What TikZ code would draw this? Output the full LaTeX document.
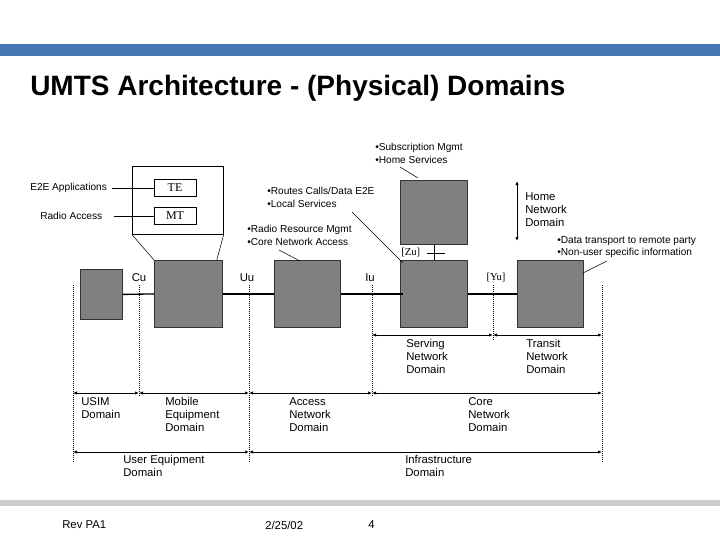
\documentclass[tikz,border=0pt]{standalone}
\usepackage{fontspec}
\setmainfont{Liberation Sans}
\newfontfamily\serifT{Liberation Serif}
\usetikzlibrary{arrows.meta}
\definecolor{barblue}{RGB}{70,120,180}
\definecolor{boxgray}{RGB}{128,128,128}
\tikzset{
  gbox/.style={fill=boxgray,draw=black!80,line width=0.6pt},
  wbox/.style={draw=black,line width=0.5pt,fill=white},
  sm/.style={font=\fontsize{7.6pt}{9pt}\selectfont,anchor=west,inner sep=0pt,align=left},
  lbl/.style={font=\fontsize{8.5pt}{9.9pt}\selectfont,anchor=north west,inner sep=0pt,align=left},
  dots/.style={densely dotted,line width=0.5pt},
  link/.style={line width=1pt},
  lead/.style={line width=0.4pt},
  dim/.style={{Latex[length=3pt,width=2.5pt]}-{Latex[length=3pt,width=2.5pt]},line width=0.6pt}
}
\begin{document}
\begin{tikzpicture}[x=0.75pt,y=-0.75pt]
\useasboundingbox (0,0) rectangle (720,540);
\fill[barblue] (0,44) rectangle (720,56);
\fill[black!20] (0,500) rectangle (720,506);
\node[anchor=west,inner sep=0pt,font=\bfseries\fontsize{21pt}{23pt}\selectfont] (title) at (30,88) {UMTS Architecture - (Physical) Domains};
% boxes
\node[gbox,minimum width=42*0.75pt,minimum height=50*0.75pt,inner sep=0pt,anchor=north west] (usim) at (80,269) {};
\node[gbox,minimum width=68*0.75pt,minimum height=67*0.75pt,inner sep=0pt,anchor=north west] (me) at (154,260) {};
\node[gbox,minimum width=66*0.75pt,minimum height=67*0.75pt,inner sep=0pt,anchor=north west] (an) at (274,260) {};
\node[gbox,minimum width=67*0.75pt,minimum height=67*0.75pt,inner sep=0pt,anchor=north west] (sn) at (400,260) {};
\node[gbox,minimum width=67*0.75pt,minimum height=64*0.75pt,inner sep=0pt,anchor=north west] (hn) at (400,180) {};
\node[gbox,minimum width=66*0.75pt,minimum height=67*0.75pt,inner sep=0pt,anchor=north west] (tn) at (517,260) {};
% outline with TE/MT
\node[draw,line width=0.5pt,minimum width=91*0.75pt,minimum height=68*0.75pt,inner sep=0pt,anchor=north west] (outl) at (132,166) {};
\node[wbox,minimum width=42*0.75pt,minimum height=17*0.75pt,inner sep=0pt,font=\serifT\fontsize{9pt}{9pt}\selectfont] (te) at (175,188) {TE};
\node[wbox,minimum width=42*0.75pt,minimum height=17*0.75pt,inner sep=0pt,font=\serifT\fontsize{9pt}{9pt}\selectfont] (mt) at (175,216) {MT};
\draw[lead] (outl.south west) -- (me.north west);
\draw[lead] (outl.south east) -- ([xshift=-6*0.75pt]me.north east);
\node[sm] (e2e) at (30,188) {E2E Applications};
\node[sm] (ra) at (40,216) {Radio Access};
\draw[lead] ([xshift=5*0.75pt]e2e.east) -- (e2e.east -| te.west);
\draw[lead] ([xshift=12*0.75pt]ra.east) -- (ra.east -| mt.west);
% links
\draw[link] (usim.east) -- (me.west);
\draw[link] (me.east) -- (an.west);
\draw[link] (an.east) -- ([xshift=3*0.75pt]sn.west);
\draw[link] (sn.east) -- (tn.west);
\draw[lead] (hn.south) -- (sn.north);
\coordinate (zt1) at (427,253); \coordinate (zt2) at (445,253);
\draw[lead] (zt1) -- (zt2);
\node[anchor=west,inner sep=0pt,font=\serifT\fontsize{8pt}{8pt}\selectfont] (zu) at (401,253) {[Zu]};
% dotted verticals
\coordinate (d1t) at (73,285); \coordinate (d1b) at (73,462);
\coordinate (d2t) at (139,285); \coordinate (d2b) at (139,396);
\coordinate (d3t) at (249,285); \coordinate (d3b) at (249,462);
\coordinate (d4t) at (372,285); \coordinate (d4b) at (372,396);
\coordinate (d5t) at (493,285); \coordinate (d5b) at (493,340);
\coordinate (d6t) at (602,285); \coordinate (d6b) at (602,462);
\foreach \i in {1,...,6} \draw[dots] (d\i t) -- (d\i b);
\node[font=\fontsize{8.5pt}{9pt}\selectfont,inner sep=0pt] (cu) at (139,278) {Cu};
\node[font=\fontsize{8.5pt}{9pt}\selectfont,inner sep=0pt] (uu) at (247,278) {Uu};
\node[font=\fontsize{8.5pt}{9pt}\selectfont,inner sep=0pt] (iu) at (370,278) {Iu};
\node[font=\serifT\fontsize{8pt}{8pt}\selectfont,inner sep=0pt] (yu) at (496,278) {[Yu]};
% dimension arrows
\coordinate (a1) at (372,335); \coordinate (a2) at (493,335); \coordinate (a3) at (602,335);
\draw[dim] (a1) -- (a2); \draw[dim] (a2) -- (a3);
\coordinate (b1) at (73,393); \coordinate (b2) at (139,393); \coordinate (b3) at (249,393); \coordinate (b4) at (372,393); \coordinate (b5) at (602,393);
\draw[dim] (b1) -- (b2); \draw[dim] (b2) -- (b3); \draw[dim] (b3) -- (b4); \draw[dim] (b4) -- (b5);
\coordinate (c1) at (73,452); \coordinate (c2) at (249,452); \coordinate (c3) at (602,452);
\draw[dim] (c1) -- (c2); \draw[dim] (c2) -- (c3);
\coordinate (h1) at (517,181); \coordinate (h2) at (517,241);
\draw[dim] (h1) -- (h2);
% domain labels
\node[lbl] (hnd) at (525,191) {\strut Home\\Network\\Domain};
\node[lbl] (snd) at (406,338) {\strut Serving\\Network\\Domain};
\node[lbl] (tnd) at (526,338) {\strut Transit\\Network\\Domain};
\node[lbl] (usd) at (81,396) {\strut USIM\\Domain};
\node[lbl] (med) at (165,396) {\strut Mobile\\Equipment\\Domain};
\node[lbl] (and) at (289,396) {\strut Access\\Network\\Domain};
\node[lbl] (cnd) at (468,396) {\strut Core\\Network\\Domain};
\node[lbl] (ued) at (123,454) {\strut User Equipment\\Domain};
\node[lbl] (ifd) at (405,454) {\strut Infrastructure\\Domain};
% annotations
\node[sm] (sub) at (375,148) {\textbullet Subscription Mgmt};
\node[sm] (hs) at (375,160) {\textbullet Home Services};
\draw[lead] (400,167) -- (418,178);
\node[sm] (rc) at (267,191) {\textbullet Routes Calls/Data E2E};
\node[sm] (ls) at (267,204) {\textbullet Local Services};
\draw[lead] (352,212) -- (403,263);
\node[sm] (rr) at (247,230) {\textbullet Radio Resource Mgmt};
\node[sm] (cn) at (247,242) {\textbullet Core Network Access};
\draw[lead] (279,250) -- (300,261);
\node[sm] (dt) at (557,241) {\textbullet Data transport to remote party};
\node[sm] (nu) at (557,253) {\textbullet Non-user specific information};
\draw[lead] (607,261) -- (583,273);
% footer
\node[sm,font=\fontsize{8.5pt}{9pt}\selectfont] (rev) at (62,525) {Rev PA1};
\node[sm,font=\fontsize{8.5pt}{9pt}\selectfont] (date) at (265,525) {2/25/02};
\node[sm,font=\fontsize{8.5pt}{9pt}\selectfont] (pg) at (368,525) {4};
\end{tikzpicture}
\end{document}
